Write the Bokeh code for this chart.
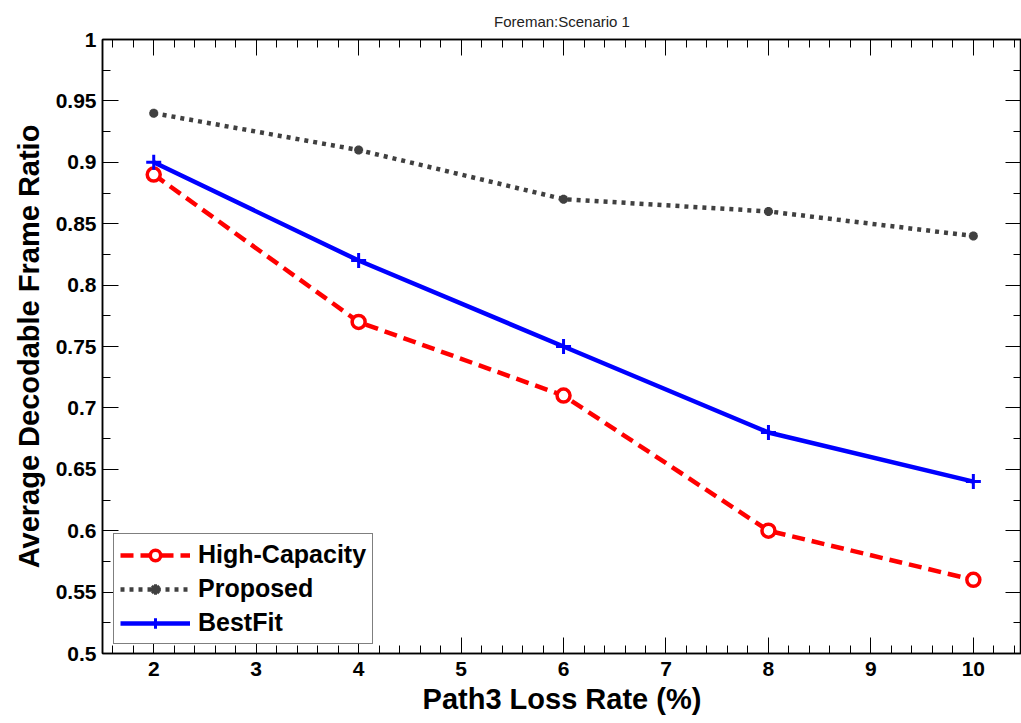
from bokeh.plotting import figure
from bokeh.models import (LinearAxis, FixedTicker, CustomJSTickFormatter, Range1d,
                          Legend, LegendItem)
from bokeh.embed import file_html
from bokeh.resources import INLINE

# ---- data ----
loss_rate = [2, 4, 6, 8, 10]
high_capacity = [0.89, 0.77, 0.71, 0.60, 0.56]
proposed = [0.94, 0.91, 0.87, 0.86, 0.84]
bestfit = [0.90, 0.82, 0.75, 0.68, 0.64]

x_ticks = [2, 3, 4, 5, 6, 7, 8, 9, 10]
y_ticks = [0.5, 0.55, 0.6, 0.65, 0.7, 0.75, 0.8, 0.85, 0.9, 0.95, 1.0]

title_text = "Foreman:Scenario 1"
x_label = "Path3 Loss Rate (%)"
y_label = "Average Decodable Frame Ratio"

FONT = "Liberation Sans"

p = figure(width=1021, height=723, output_backend="svg", toolbar_location=None,
           x_range=Range1d(1.5, 10.47), y_range=Range1d(0.5, 1.0),
           min_border_left=102, min_border_top=38, min_border_bottom=70,
           min_border_right=0, x_axis_location=None, y_axis_location=None)
p.background_fill_color = "white"
p.border_fill_color = "white"
p.outline_line_color = "black"
p.outline_line_width = 1.5
p.xgrid.visible = False
p.ygrid.visible = False

p.title.text = title_text
p.title.align = "center"
p.title.text_font = FONT
p.title.text_font_style = "normal"
p.title.text_font_size = "15px"
p.title.text_color = "#222222"
p.title.standoff = 20

x_minor = [round(1.6 + 0.2 * i, 1) for i in range(45)]
y_minor = [round(0.5 + 0.025 * i, 3) for i in range(21)]
xt = FixedTicker(ticks=x_ticks, minor_ticks=x_minor)
yt = FixedTicker(ticks=y_ticks, minor_ticks=y_minor)
yfmt = CustomJSTickFormatter(code="return (Math.round(tick*100)/100).toString();")
blank = CustomJSTickFormatter(code="return '';")


def style_axis(ax, show_labels):
    ax.major_tick_in = 16
    ax.major_tick_out = 0
    ax.minor_tick_in = 8
    ax.minor_tick_out = 0
    ax.major_tick_line_color = "black"
    ax.minor_tick_line_color = "black"
    ax.axis_line_color = "black"
    ax.axis_line_width = 1.5
    if show_labels:
        ax.major_label_text_font = FONT
        ax.major_label_text_font_style = "bold"
        ax.major_label_text_font_size = "21px"
        ax.major_label_text_color = "black"
        ax.axis_label_text_font = FONT
        ax.axis_label_text_font_style = "bold"
        ax.axis_label_text_font_size = "29px"
        ax.axis_label_text_color = "black"
    else:
        ax.formatter = blank
        ax.major_label_standoff = 0


xb = LinearAxis(ticker=xt, axis_label=x_label)
style_axis(xb, True)
xb.major_label_standoff = 8
xb.axis_label_standoff = 4
p.add_layout(xb, "below")

xa = LinearAxis(ticker=xt)
style_axis(xa, False)
p.add_layout(xa, "above")

yl = LinearAxis(ticker=yt, formatter=yfmt, axis_label=y_label)
style_axis(yl, True)
yl.major_label_standoff = 6
yl.axis_label_standoff = 8
p.add_layout(yl, "left")

yr = LinearAxis(ticker=yt)
style_axis(yr, False)
p.add_layout(yr, "right")

# ---- series ----
r1 = p.line(loss_rate, high_capacity, line_color="#ff0000", line_width=4.5, line_dash="13 7")
m1 = p.scatter(loss_rate, high_capacity, marker="circle", size=13, line_color="#ff0000",
               line_width=3.5, fill_color="white")

r2 = p.line(loss_rate, proposed, line_color="#404040", line_width=4.5, line_dash="4 5")
m2 = p.scatter(loss_rate, proposed, marker="asterisk", size=9, line_color="#404040",
               line_width=3)

r3 = p.line(loss_rate, bestfit, line_color="#0000ff", line_width=4.5)
m3 = p.scatter(loss_rate, bestfit, marker="cross", size=15, line_color="#0000ff",
               line_width=3)

legend = Legend(items=[
    LegendItem(label="High-Capacity", renderers=[r1, m1]),
    LegendItem(label="Proposed", renderers=[r2, m2]),
    LegendItem(label="BestFit", renderers=[r3, m3]),
], location=(11, 9))
legend.label_text_font = FONT
legend.label_text_font_style = "bold"
legend.label_text_font_size = "25px"
legend.label_text_color = "black"
legend.glyph_width = 70
legend.glyph_height = 26
legend.label_height = 26
legend.spacing = 5
legend.padding = 6
legend.margin = 0
legend.label_standoff = 8
legend.border_line_color = "black"
legend.border_line_width = 1.5
legend.background_fill_color = "white"
legend.background_fill_alpha = 1.0
p.add_layout(legend, "center")

open("out.html", "w").write(file_html(p, INLINE))
